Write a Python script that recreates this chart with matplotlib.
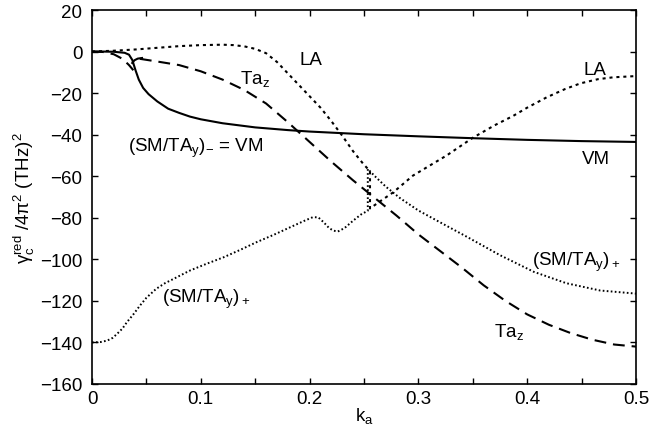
import matplotlib
matplotlib.use("Agg")
import matplotlib.pyplot as plt
from matplotlib.ticker import MultipleLocator

plt.rcParams['font.family'] = ['Liberation Sans', 'DejaVu Sans']
plt.rcParams['mathtext.default'] = 'regular'
plt.rcParams['lines.scale_dashes'] = False

# ---- data ----
vm_k = [0, 0.01, 0.02, 0.03, 0.034, 0.037, 0.04, 0.043, 0.047, 0.052, 0.06, 0.07, 0.08,
        0.09, 0.1, 0.12, 0.15, 0.18, 0.2, 0.25, 0.3, 0.35, 0.4, 0.45, 0.5]
vm_v = [0, 0, -0.1, -0.6, -1.5, -4, -9, -13.5, -17.5, -20.5, -24, -27.5, -29.5,
        -31.3, -32.6, -34.5, -36.5, -37.8, -38.5, -39.8, -40.8, -41.7, -42.5, -43.1, -43.5]

hook_k = [0.037, 0.039, 0.042, 0.046]
hook_v = [-5.5, -4.2, -3.4, -3.1]

taz_early_k = [0, 0.01, 0.02, 0.028, 0.034, 0.038]
taz_early_v = [0, -0.2, -1.3, -3.5, -6.5, -9]

taz_k = [0.044, 0.06, 0.08, 0.1, 0.12, 0.14, 0.16, 0.18, 0.2, 0.22, 0.24, 0.26, 0.28,
         0.3, 0.32, 0.34, 0.36, 0.38, 0.4, 0.42, 0.44, 0.46, 0.48, 0.5]
taz_v = [-3.5, -4.8, -6.5, -9.5, -13.5, -18.5, -25, -34, -43.5, -53, -62, -70.5, -79,
         -88, -96, -104, -112.5, -120, -126.5, -131.5, -135.5, -138.7, -141, -142]

la_k = [0, 0.02, 0.04, 0.06, 0.08, 0.1, 0.12, 0.13, 0.14, 0.15, 0.16, 0.17, 0.18, 0.19,
        0.2, 0.21, 0.22, 0.23, 0.24, 0.25, 0.2555,
        0.2555, 0.265, 0.277, 0.295, 0.31, 0.326, 0.35, 0.37, 0.387, 0.4, 0.418, 0.435,
        0.449, 0.465, 0.479, 0.5]
la_v = [0, 0.4, 1.0, 1.8, 2.6, 3.1, 3.3, 3.1, 2.5, 1.3, -0.8, -5.0, -10.5, -16,
        -21.5, -27, -33.5, -40.5, -48, -54.5, -57.5,
        -75.5, -72, -67.7, -59.7, -55, -50, -41.5, -35.5, -31, -27, -22, -18,
        -15.3, -13.3, -12.4, -11.8]

smp_k = [0, 0.008, 0.014, 0.019, 0.023, 0.028, 0.032, 0.038, 0.044, 0.05, 0.059, 0.067,
         0.075, 0.09, 0.105, 0.121, 0.136, 0.151, 0.167, 0.182, 0.195, 0.203, 0.208,
         0.213, 0.218, 0.222, 0.226, 0.232, 0.24, 0.247, 0.2535,
         0.2535, 0.26, 0.27, 0.283, 0.3, 0.314, 0.344, 0.375, 0.406, 0.436, 0.467, 0.5]
smp_v = [-140, -139.8, -139.1, -137.8, -135.9, -133.3, -130.3, -126.5, -122.3, -118.5,
         -114.2, -111.5, -109.4, -105.4, -102.2, -99, -95.5, -91.8, -88.2, -84.6, -81.5,
         -79.7, -79.8, -82.2, -85, -86.2, -86.6, -85, -81.4, -78.5, -76.6,
         -56.5, -60, -65, -70.5, -76.5, -80.5, -89, -98, -106, -111.5, -115, -116.5]

x_ticks = [0, 0.1, 0.2, 0.3, 0.4, 0.5]
y_ticks = [20, 0, -20, -40, -60, -80, -100, -120, -140, -160]

fig = plt.figure(figsize=(6.51, 4.39), dpi=100)
ax = fig.add_axes([92/651, 1-385/439, (636-92)/651, (385-11)/439])

ax.plot(vm_k, vm_v, color='black', lw=1.5, solid_capstyle='butt')
ax.plot(hook_k, hook_v, color='black', lw=1.5)
ax.plot(taz_early_k, taz_early_v, color='black', lw=1.5, linestyle=(0, (8.5, 5)))
ax.plot(taz_k, taz_v, color='black', lw=1.5, linestyle=(0, (8.5, 5)))
ax.plot(la_k, la_v, color='black', lw=1.5, linestyle=(0, (2.2, 2.8)))
ax.plot(smp_k, smp_v, color='black', lw=1.4, linestyle=(0, (1.2, 1.7)))

fs = 13.5
ax.text(0.201, -4, 'LA', fontsize=fs, ha='center', va='center')
ax.text(0.150, -12.5, 'Ta$_z$', fontsize=fs, ha='center', va='center')
ax.text(0.033, -46, '(SM/TA$_y$)$_{-}$ = VM', fontsize=fs, ha='left', va='center')
ax.text(0.462, -8.4, 'LA', fontsize=fs, ha='center', va='center')
ax.text(0.463, -51.7, 'VM', fontsize=fs, ha='center', va='center')
ax.text(0.404, -100.8, '(SM/TA$_y$)$_+$', fontsize=fs, ha='left', va='center')
ax.text(0.064, -119, '(SM/TA$_y$)$_+$', fontsize=fs, ha='left', va='center')
ax.text(0.383, -134.5, 'Ta$_z$', fontsize=fs, ha='center', va='center')

ax.set_xlim(0, 0.5)
ax.set_ylim(-160, 20)
ax.set_xticks(x_ticks)
ax.set_xticklabels(['0', '0.1', '0.2', '0.3', '0.4', '0.5'])
ax.xaxis.set_minor_locator(MultipleLocator(0.05))
ax.set_yticks(y_ticks)
ax.tick_params(which='both', direction='in', top=True, right=True, length=4,
               width=1, labelsize=fs)
ax.tick_params(axis='x', pad=4)
ax.tick_params(axis='y', pad=7)
for s in ax.spines.values():
    s.set_linewidth(1.2)

ax.set_xlabel('k$_a$', fontsize=fs, labelpad=-1)
ax.set_ylabel('γ$_c^{red}$ /4π$^2$ (THz)$^2$', fontsize=fs, labelpad=2)

fig.savefig('out.png', dpi=100)
